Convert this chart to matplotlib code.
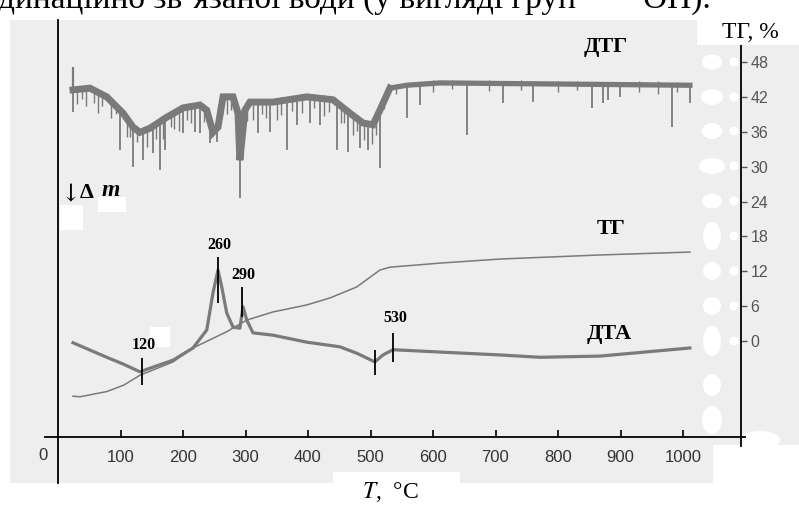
import matplotlib
matplotlib.use('Agg')
import matplotlib.pyplot as plt
import numpy as np
from matplotlib.patches import Rectangle, Ellipse

# ТГ (тонка лінія)
tg_t = [24, 35, 78, 105, 131, 184, 216, 270, 302, 344, 398, 435, 478, 515, 531, 611, 707, 867, 1011]
tg_v = [-9.5, -9.6, -8.7, -7.6, -5.9, -3.6, -1.2, 1.6, 3.6, 5.0, 6.2, 7.4, 9.3, 12.2, 12.7, 13.4, 14.1, 14.8, 15.3]

# ДТА (товста лінія)
dta_t = [24, 78, 105, 131, 152, 184, 216, 238, 248, 256, 262, 270, 280, 291, 296, 302, 312,
         344, 398, 451, 478, 507, 520, 536, 611, 707, 771, 867, 1011]
dta_v = [-0.3, -2.8, -4.0, -5.3, -4.5, -3.3, -1.2, 1.9, 8.3, 12.2, 9.3, 4.8, 2.4, 2.2, 5.9, 3.6, 1.4,
         1.0, -0.2, -1.0, -2.1, -3.6, -2.4, -1.5, -1.9, -2.4, -2.8, -2.6, -1.2]

# ДТГ: середня лінія смуги шуму
dtg_t = [24, 51, 78, 104, 120, 131, 147, 174, 200, 227, 238, 248, 256, 264, 280, 288, 291, 299,
         307, 344, 398, 440, 467, 488, 504, 515, 531, 558, 611, 1011]
dtg_v = [43.2, 43.5, 42.0, 39.2, 36.8, 35.9, 36.6, 38.5, 40.1, 40.6, 39.7, 35.9, 36.8, 42.0, 42.0, 39.2, 31.1, 39.7,
         41.1, 41.1, 42.0, 41.5, 39.2, 37.5, 37.2, 39.7, 43.5, 44.0, 44.4, 44.0]
dtg_start_hi = 47.1

# ДТГ: великі піки донизу (нижня точка)
spike_t = [24, 99, 120, 136, 152, 163, 171, 200, 219, 227, 243, 254, 291, 320, 339, 366, 382, 403, 419,
           446, 464, 483, 496, 515, 558, 579, 654, 712, 760, 854, 872, 880, 899, 982, 1011]
spike_v = [39.4, 32.9, 30.0, 31.1, 32.3, 29.4, 32.9, 35.8, 35.9, 35.8, 34.1, 34.2, 24.6, 35.8, 35.9, 32.9, 37.2, 37.5, 37.2,
           32.9, 32.5, 33.2, 32.9, 29.8, 38.4, 40.6, 35.4, 40.9, 41.1, 40.1, 40.9, 41.5, 42.0, 36.8, 40.9]

# ДТГ: дрібний шум (глибина під смугою)
ripple_t = [30, 38, 45, 58, 64, 70, 85, 92, 110, 115, 126, 142, 157, 168, 180, 186, 193, 207, 213, 233, 262,
            270, 276, 285, 303, 312, 326, 332, 350, 357, 374, 390, 410, 426, 433, 452, 458, 472, 478, 490, 502,
            508, 522, 540, 600, 630, 690, 740, 800, 830, 930, 960, 990]
ripple_d = [2.5, 1.8, 3.0, 2.2, 3.5, 2.0, 2.8, 1.5, 3.2, 2.4, 2.0, 3.0, 2.6, 3.4, 2.0, 2.8, 3.6, 2.2, 2.9, 2.4, 1.8,
            3.0, 2.2, 1.6, 2.5, 3.1, 2.0, 2.7, 3.2, 2.4, 2.0, 2.6, 1.8, 2.9, 2.2, 3.0, 2.5, 3.3, 2.1, 2.8, 3.4,
            2.6, 1.5, 1.2, 1.5, 1.0, 1.3, 1.1, 1.4, 1.0, 1.2, 1.5, 1.1]

x_ticks = [100, 200, 300, 400, 500, 600, 700, 800, 900, 1000]
y_ticks = [0, 6, 12, 18, 24, 30, 36, 42, 48]

peak_labels = ['120', '260', '290', '530']
peak_t = [134, 256, 294, 536]
peak_lo = [-7.6, 6.5, 4.1, -3.6]
peak_hi = [-2.9, 14.4, 9.3, 1.4]
peak_text_v = [-0.7, 16.5, 11.4, 4.0]

W, H = 799, 519


def fx(px):
    return px / W


def fy(py):
    return 1 - py / H


def tx(px):
    return (px - 58) * 1.6


def vy(py):
    return (341 - py) / 5.8125


line_col = '#7a7a7a'
serif = ['Liberation Serif', 'DejaVu Serif']
narrow = ['Liberation Sans Narrow', 'Liberation Sans', 'DejaVu Sans']

fig = plt.figure(figsize=(W / 100, H / 100), dpi=100)
fig.patch.set_facecolor('white')

# сіре поле графіка (px 10..799, 20..483)
ax = fig.add_axes([fx(10), fy(483), fx(799) - fx(10), fy(20) - fy(483)])
ax.set_facecolor('#eeeeee')
ax.set_xlim(tx(10), tx(799))
ax.set_ylim(vy(483), vy(20))

ax.spines['top'].set_visible(False)
ax.spines['left'].set_position(('data', 0))
ax.spines['left'].set_linewidth(1.3)
ax.spines['bottom'].set_position(('data', vy(437)))
ax.spines['bottom'].set_bounds(tx(45), tx(745))
ax.spines['bottom'].set_linewidth(1.3)
ax.spines['right'].set_position(('data', tx(741)))
ax.spines['right'].set_bounds(vy(446), vy(45))
ax.spines['right'].set_linewidth(1.3)

ax.set_xticks(x_ticks)
ax.set_xticklabels([str(t) for t in x_ticks], family=narrow, fontsize=12, color='#333333')
ax.tick_params(axis='x', direction='in', length=5, width=1.2, pad=9)
ax.yaxis.set_ticks_position('right')
ax.set_yticks(y_ticks)
ax.set_yticklabels([str(v) for v in y_ticks], family=narrow, fontsize=11.5, color='#555555')
ax.tick_params(axis='y', direction='out', length=4, width=1, pad=3, colors='#555555')
ax.text(tx(43), vy(456), '0', family=narrow, fontsize=12, color='#333333', ha='center', va='center')

# білі плями від сканування (під кривими)
patches = [
    Rectangle((fx(713), fy(483)), fx(799) - fx(713), fy(445) - fy(483)),
    Rectangle((fx(333), fy(483)), fx(460) - fx(333), fy(472) - fy(483)),
    Rectangle((fx(60), fy(230)), fx(83) - fx(60), fy(205) - fy(230)),
    Rectangle((fx(98), fy(212)), fx(126) - fx(98), fy(197) - fy(212)),
    Rectangle((fx(150), fy(347)), fx(170) - fx(150), fy(327) - fy(347)),
]
for py, w, h in [(62, 20, 15), (97, 22, 16), (131, 20, 16), (166, 26, 16), (201, 20, 15),
                 (236, 18, 28), (271, 18, 18), (306, 18, 18), (341, 18, 30), (385, 18, 22), (420, 20, 28)]:
    patches.append(Ellipse((fx(712), fy(py)), w / W, h / H))
for py in [62, 97, 131, 166, 201, 236, 271, 306, 341]:
    patches.append(Ellipse((fx(734), fy(py)), 9 / W, 9 / H))
patches.append(Ellipse((fx(760), fy(440)), 40 / W, 18 / H))
for p in patches:
    p.set_transform(fig.transFigure)
    p.set_facecolor('white')
    p.set_edgecolor('none')
    p.set_zorder(1.2)
    ax.add_artist(p)

# ДТГ
dtg_t = np.array(dtg_t)
dtg_v = np.array(dtg_v)
first = dtg_t <= 531
ax.plot(dtg_t[first], dtg_v[first], color=line_col, lw=5, solid_joinstyle='miter')
ax.plot(dtg_t[dtg_t >= 515], dtg_v[dtg_t >= 515], color=line_col, lw=3.8)
ax.vlines(spike_t, spike_v, np.interp(spike_t, dtg_t, dtg_v), color=line_col, lw=1.3)
ax.vlines([dtg_t[0]], [dtg_v[0]], [dtg_start_hi], color=line_col, lw=1.6)
rip_top = np.interp(ripple_t, dtg_t, dtg_v)
ax.vlines(ripple_t, rip_top - np.array(ripple_d), rip_top + 0.6, color=line_col, lw=1.0)

ax.plot(tg_t, tg_v, color=line_col, lw=1.1)
ax.plot(dta_t, dta_v, color=line_col, lw=2.3)

# позначки піків
ax.vlines(peak_t, peak_lo, peak_hi, color='black', lw=1.3)
ax.vlines([507], [-5.8], [-1.5], color='black', lw=1.3)
for lab, t, v in zip(peak_labels, peak_t, peak_text_v):
    ax.text(t + 3, v, lab, family=serif, fontsize=11.5, fontweight='bold', ha='center', va='center', zorder=4)

# підписи кривих
ax.text(tx(606), vy(47), 'ДТГ', family=serif, fontsize=16, fontweight='bold', ha='center', va='center')
ax.text(tx(611), vy(229), 'ТГ', family=serif, fontsize=16, fontweight='bold', ha='center', va='center')
ax.text(tx(609), vy(334), 'ДТА', family=serif, fontsize=16, fontweight='bold', ha='center', va='center')

# біла вставка з підписом осі ТГ
box = Rectangle((fx(697), fy(45)), fx(799) - fx(697), fy(20) - fy(45), transform=fig.transFigure,
                facecolor='white', edgecolor='none', zorder=2)
fig.add_artist(box)

# Δm
fig.text(fx(61), fy(194), '↓', family=['DejaVu Serif'], fontsize=17, va='center', zorder=5)
fig.text(fx(80), fy(193), 'Δ', family=serif, fontsize=16, fontweight='bold', va='center', zorder=5)
fig.text(fx(102), fy(191), 'm', family=serif, fontsize=17, fontweight='bold', style='italic', va='center', zorder=5)

# тексти поза полем
fig.text(fx(750), fy(32), 'ТГ, %', family=serif, fontsize=17, ha='center', va='center', zorder=5)
fig.text(fx(390), fy(492), r'$T$,  °C', family=serif, fontsize=17, ha='center', va='center',
         math_fontfamily='stix')
fig.text(fx(-2), fy(8), 'динаційно зв’язаної води (у вигляді груп        ОН).', family=serif,
         fontsize=24, va='baseline')

fig.savefig('out.png', dpi=100)
